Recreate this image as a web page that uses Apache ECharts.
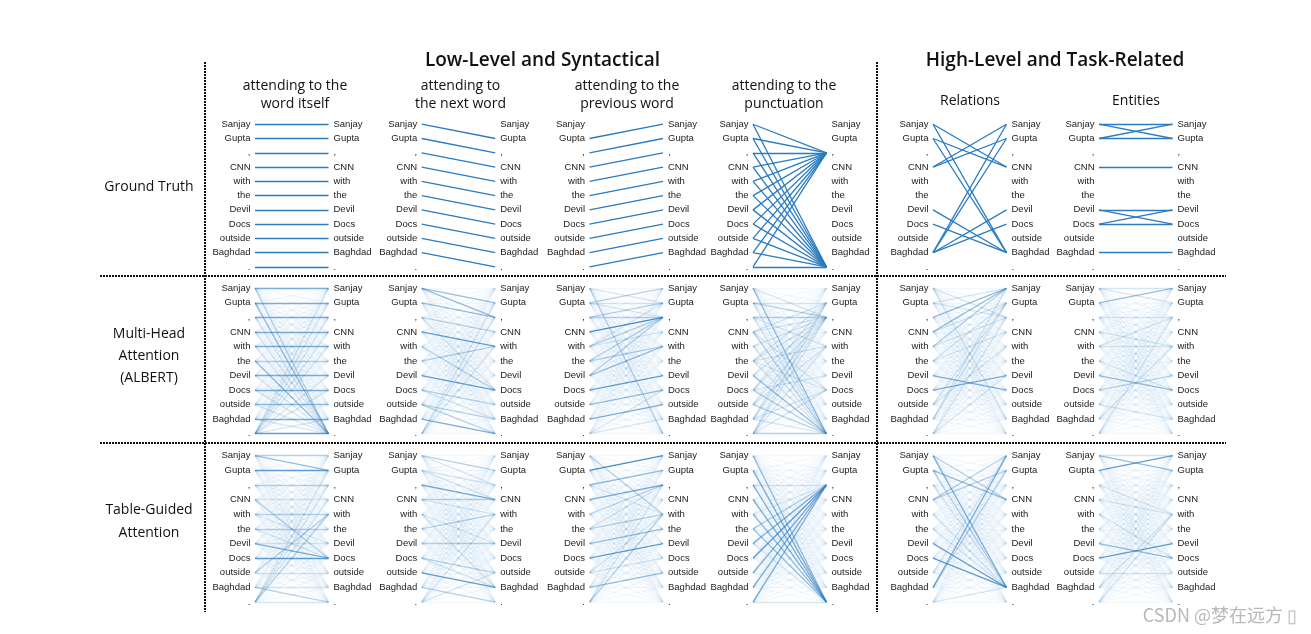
<!DOCTYPE html>
<html><head><meta charset="utf-8">
<script src="https://cdn.jsdelivr.net/npm/echarts@6/dist/echarts.min.js"></script>
<style>html,body{margin:0;padding:0;background:#fff}#c{width:1311px;height:634px}</style>
</head><body><div id="c"></div>
<script>
const TOKENS = ['Sanjay','Gupta',',','CNN','with','the','Devil','Docs','outside','Baghdad','.'];
const GROUP_TITLES = ['Low-Level and Syntactical','High-Level and Task-Related'];
const COL_TITLES = ['attending to the\nword itself','attending to\nthe next word','attending to the\nprevious word','attending to the\npunctuation','Relations','Entities'];
const ROW_LABELS = ['Ground Truth','Multi-Head\nAttention\n(ALBERT)','Table-Guided\nAttention'];
const WATERMARK = 'CSDN @梦在远方 ▯';

// Ground truth: [from left token, to right token]
const GT_ITSELF = [[0,0],[1,1],[2,2],[3,3],[4,4],[5,5],[6,6],[7,7],[8,8],[9,9],[10,10]];
const GT_NEXT = [[0,1],[1,2],[2,3],[3,4],[4,5],[5,6],[6,7],[7,8],[8,9],[9,10]];
const GT_PREV = [[1,0],[2,1],[3,2],[4,3],[5,4],[6,5],[7,6],[8,7],[9,8],[10,9]];
const GT_PUNCT = [[0,2],[0,10],[1,2],[1,10],[2,2],[2,10],[3,2],[3,10],[4,2],[4,10],[5,2],[5,10],[6,2],[6,10],[7,2],[7,10],[8,2],[8,10],[9,2],[9,10],[10,2],[10,10]];
const GT_REL = [[0,3],[0,9],[1,3],[1,9],[3,0],[3,1],[6,9],[7,9],[9,0],[9,1],[9,6],[9,7]];
const GT_ENT = [[0,0],[0,1],[1,0],[1,1],[3,3],[6,6],[6,7],[7,6],[7,7],[9,9]];

// Attention strength levels (0-9), rows = left token, cols = right token
const MH_ITSELF = [
[5,1,1,1,1,1,1,1,1,1,3],[1,5,1,1,1,1,1,1,1,1,4],[1,1,5,1,1,1,1,1,1,1,2],[1,1,1,5,1,1,1,1,1,1,2],
[1,1,1,1,5,1,1,1,1,1,2],[1,1,1,1,1,3,1,1,1,1,4],[1,1,1,1,1,1,5,1,1,1,2],[1,1,1,1,1,1,1,5,1,1,2],
[1,1,1,1,1,1,1,1,4,1,2],[1,1,1,1,1,1,1,1,1,5,2],[2,2,2,2,2,1,2,2,1,2,6]];
const MH_NEXT = [
[1,4,4,1,1,1,1,1,1,1,1],[1,1,4,1,1,1,1,1,1,1,1],[1,1,1,3,1,1,1,2,1,1,1],[1,1,1,1,6,1,1,1,1,1,1],
[1,1,1,1,1,1,1,3,1,1,1],[1,1,1,1,3,1,1,1,1,1,1],[1,1,1,1,1,1,1,6,1,1,1],[1,1,1,1,1,1,1,1,3,2,1],
[1,1,1,1,1,1,1,1,1,3,3],[1,1,1,1,1,1,1,1,1,1,5],[1,2,2,1,2,1,1,1,1,1,1]];
const MH_PREV = [
[1,2,1,1,1,1,1,1,1,1,3],[3,2,2,1,1,1,1,1,1,1,1],[1,3,3,1,1,1,1,1,1,1,1],[1,1,7,1,1,1,1,1,1,1,1],
[1,2,3,2,1,1,1,1,1,1,1],[1,1,3,1,3,1,1,1,1,1,1],[1,1,3,1,4,1,1,1,1,1,1],[1,1,1,1,1,1,6,1,1,1,1],
[1,1,1,1,1,1,1,4,1,1,1],[1,1,1,1,1,1,1,1,5,1,1],[1,1,1,1,1,1,1,2,1,2,1]];
const MH_PUNCT = [
[1,1,2,1,1,1,1,1,1,1,4],[1,2,3,1,1,1,1,1,1,1,2],[1,1,3,1,2,1,1,1,1,1,2],[1,2,2,1,1,1,1,2,1,1,3],
[1,1,2,1,1,1,1,1,1,1,2],[1,2,2,1,2,1,1,2,1,1,2],[1,1,2,1,1,1,1,1,1,1,4],[1,2,2,1,1,1,2,1,1,1,3],
[1,1,2,1,2,1,1,1,1,1,3],[1,2,2,1,1,1,1,2,1,1,2],[1,2,2,1,2,1,1,2,1,1,3]];
const MH_REL = [
[1,1,2,1,1,1,1,1,1,2,1],[2,1,2,1,1,1,1,1,1,1,1],[4,1,1,1,1,1,1,1,1,1,1],[4,2,1,1,1,1,1,1,1,1,1],
[3,1,2,1,1,1,1,1,1,1,1],[1,2,1,2,1,1,1,1,1,1,1],[1,1,1,1,1,1,1,5,1,1,1],[1,1,1,1,1,1,5,1,1,1,1],
[1,2,1,1,2,1,1,1,1,1,1],[2,2,1,1,1,1,1,1,1,1,1],[1,1,2,1,1,1,2,1,1,1,1]];
const MH_ENT = [
[2,2,1,1,1,1,1,1,1,1,1],[4,1,1,1,1,1,1,1,1,1,1],[1,1,2,1,1,1,1,1,1,1,1],[1,1,1,1,2,1,1,1,1,1,1],
[1,1,2,1,2,1,1,1,1,1,1],[1,1,1,1,1,1,1,2,1,1,1],[1,1,1,1,1,1,1,4,1,1,1],[1,1,1,1,1,1,3,1,1,1,1],
[1,1,1,1,1,1,1,1,1,2,1],[1,1,1,1,2,1,1,1,1,1,1],[1,1,2,1,1,1,1,1,1,1,1]];
const TG_ITSELF = [
[3,4,1,1,1,1,1,1,1,1,1],[1,6,1,1,1,1,1,1,1,1,1],[1,1,3,1,1,1,1,1,1,1,1],[1,1,1,2,1,1,1,3,1,1,1],
[1,1,1,1,3,1,2,1,1,1,1],[1,1,1,1,1,3,1,2,1,1,1],[1,1,1,1,1,1,2,5,1,1,1],[1,1,1,1,1,1,1,6,1,1,1],
[1,1,1,1,3,1,1,1,2,1,1],[1,1,1,1,1,1,1,1,1,2,3],[1,2,2,2,3,1,1,1,1,1,2]];
const TG_NEXT = [
[1,3,2,1,1,1,1,1,1,1,1],[1,1,2,2,1,1,1,1,1,1,1],[1,1,1,5,1,1,1,1,1,1,1],[1,1,1,3,2,1,1,1,1,1,1],
[1,1,1,1,1,1,2,1,1,2,1],[1,1,1,1,3,1,1,1,1,1,1],[1,1,1,1,1,1,3,1,1,1,1],[1,1,1,1,1,1,1,1,3,2,1],
[1,1,1,1,1,1,1,1,1,6,1],[1,1,1,1,1,1,1,1,1,1,3],[1,1,1,1,2,1,1,1,2,1,1]];
const TG_PREV = [
[1,1,1,1,3,1,1,1,1,1,1],[7,1,1,1,1,1,1,1,1,1,1],[1,4,1,1,2,1,1,1,1,1,1],[1,1,5,1,1,1,1,1,1,1,1],
[1,1,3,1,1,1,1,1,1,1,1],[1,1,2,1,3,1,1,1,1,1,1],[1,1,1,1,1,4,1,1,1,1,1],[1,1,1,1,1,1,6,1,1,1,1],
[1,1,1,1,2,1,1,2,1,1,1],[1,1,1,1,1,1,1,1,4,1,1],[1,1,2,1,3,1,1,1,1,1,1]];
const TG_PUNCT = [
[1,1,1,1,1,1,1,1,1,1,4],[1,1,1,1,1,1,1,1,1,1,5],[1,1,2,1,1,1,1,1,1,1,5],[1,1,1,1,1,1,1,1,1,1,5],
[1,1,2,1,1,1,1,1,1,1,4],[1,1,3,1,1,1,1,1,1,1,4],[1,1,5,1,1,1,1,1,1,1,2],[1,1,6,1,1,1,1,1,1,1,1],
[1,1,5,1,1,1,1,1,1,1,1],[1,1,5,1,1,1,1,1,1,1,1],[1,1,5,1,1,1,1,1,1,1,2]];
const TG_REL = [
[1,1,1,3,1,1,1,1,1,5,1],[1,1,1,4,1,1,1,1,1,3,1],[1,1,1,1,1,1,1,1,1,2,1],[3,3,1,1,1,1,1,1,1,1,1],
[1,1,1,1,1,1,1,1,1,2,1],[1,1,1,1,1,1,1,1,1,2,1],[1,1,1,1,1,1,1,1,1,6,1],[1,1,1,1,1,1,1,1,1,6,1],
[2,1,1,1,1,1,1,1,1,1,1],[5,3,1,1,1,1,1,1,1,1,1],[1,1,1,1,1,1,1,1,1,2,1]];
const TG_ENT = [
[2,4,1,1,1,1,1,1,1,1,1],[6,1,1,1,1,1,1,1,1,1,1],[1,1,1,1,2,1,1,1,1,1,1],[1,1,1,1,2,1,1,1,1,1,1],
[1,1,1,1,1,1,1,2,1,1,1],[1,1,1,1,1,1,1,1,1,1,1],[1,1,1,1,1,1,1,4,1,1,1],[1,1,1,1,1,1,6,1,1,1,1],
[1,1,1,1,1,1,1,1,2,1,1],[1,1,1,1,2,1,1,1,1,1,1],[1,1,1,1,2,1,1,1,1,1,1]];

const GT_ROW = [GT_ITSELF, GT_NEXT, GT_PREV, GT_PUNCT, GT_REL, GT_ENT];
const MH_ROW = [MH_ITSELF, MH_NEXT, MH_PREV, MH_PUNCT, MH_REL, MH_ENT];
const TG_ROW = [TG_ITSELF, TG_NEXT, TG_PREV, TG_PUNCT, TG_REL, TG_ENT];

// ---- styles / layout ----
const BLUE = '#2b7bc0';
const LEVEL_OPACITY = [0, 0.055, 0.2, 0.35, 0.5, 0.62, 0.75, 0.88, 0.95, 1];
const COL_X = [255, 421.7, 589.5, 753, 933, 1099];
const COL_W = 73.5;
const ROW_BOX = [{top:117.1, h:157}, {top:281.0, h:160}, {top:448.4, h:161}];
const LABEL_FONT = {fontFamily:'Liberation Sans, Arial, sans-serif', fontSize:9.5, color:'#222'};

const grids = [], xAxes = [], yAxes = [], series = [];
let gi = 0;
for (let r = 0; r < 3; r++) {
  for (let c = 0; c < 6; c++) {
    grids.push({left: COL_X[c], top: ROW_BOX[r].top, width: COL_W, height: ROW_BOX[r].h, containLabel:false});
    xAxes.push({gridIndex: gi, type:'value', min:0, max:1, show:false});
    const yBase = {gridIndex: gi, type:'category', data: TOKENS, inverse:true, boundaryGap:true,
      axisLine:{show:false}, axisTick:{show:false}, splitLine:{show:false}};
    yAxes.push(Object.assign({}, yBase, {position:'left', axisLabel:Object.assign({interval:0, margin:4.5}, LABEL_FONT)}));
    yAxes.push(Object.assign({}, yBase, {position:'right', axisLabel:Object.assign({interval:0, margin:5}, LABEL_FONT)}));
    let data = [];
    if (r === 0) {
      data = GT_ROW[c].map(p => ({coords:[[0,p[0]],[1,p[1]]], lineStyle:{opacity:1}}));
    } else {
      const M = (r === 1 ? MH_ROW : TG_ROW)[c];
      const items = [];
      M.forEach((row, i) => row.forEach((lv, j) => { if (lv > 0) items.push({lv, i, j}); }));
      items.sort((a, b) => a.lv - b.lv);
      data = items.map(t => ({coords:[[0,t.i],[1,t.j]], lineStyle:{opacity: LEVEL_OPACITY[t.lv]}}));
    }
    series.push({type:'lines', coordinateSystem:'cartesian2d', xAxisIndex: gi, yAxisIndex: gi*2,
      silent:true, polyline:false, lineStyle:{color: BLUE, width: 1.3, curveness:0}, data});
    gi++;
  }
}

const OPEN = 'Open Sans, Noto Sans, sans-serif';
const graphic = [];
function txt(x, y, text, size, weight, lh) {
  graphic.push({type:'text', x, y, silent:true, style:{text, fill:'#111', font: (weight||'normal') + ' ' + size + 'px ' + OPEN,
    textAlign:'center', textVerticalAlign:'middle', lineHeight: lh || size*1.3}});
}
txt(542.5, 60.5, GROUP_TITLES[0], 19, '600');
txt(1055, 60.5, GROUP_TITLES[1], 19, '600');
const SUB_X = [295, 460.5, 627, 784, 970, 1136];
for (let c = 0; c < 6; c++) txt(SUB_X[c], c < 4 ? 95.5 : 101, COL_TITLES[c], 14, 'normal', 18);
txt(149, 187.5, ROW_LABELS[0], 14, 'normal', 22);
txt(149, 356.5, ROW_LABELS[1], 14, 'normal', 22);
txt(149, 522, ROW_LABELS[2], 14, 'normal', 23);

function dash(x1, y1, x2, y2) {
  graphic.push({type:'line', silent:true, shape:{x1, y1, x2, y2},
    style:{stroke:'#111', lineWidth:2, lineDash:[2, 1]}});
}
dash(205, 62, 205, 612);
dash(877, 62, 877, 612);
dash(100, 276, 1226, 276);
dash(100, 443, 1226, 443);

graphic.push({type:'text', x:1297, y:615, silent:true, style:{text: WATERMARK, fill:'#b8b8b8',
  font:'normal 18px Noto Sans CJK SC, Noto Sans, sans-serif', textAlign:'right', textVerticalAlign:'middle'}});

const chart = echarts.init(document.getElementById('c'), null, {renderer:'canvas'});
chart.setOption({animation:false, backgroundColor:'#fff', grid:grids, xAxis:xAxes, yAxis:yAxes, series, graphic});
</script></body></html>
